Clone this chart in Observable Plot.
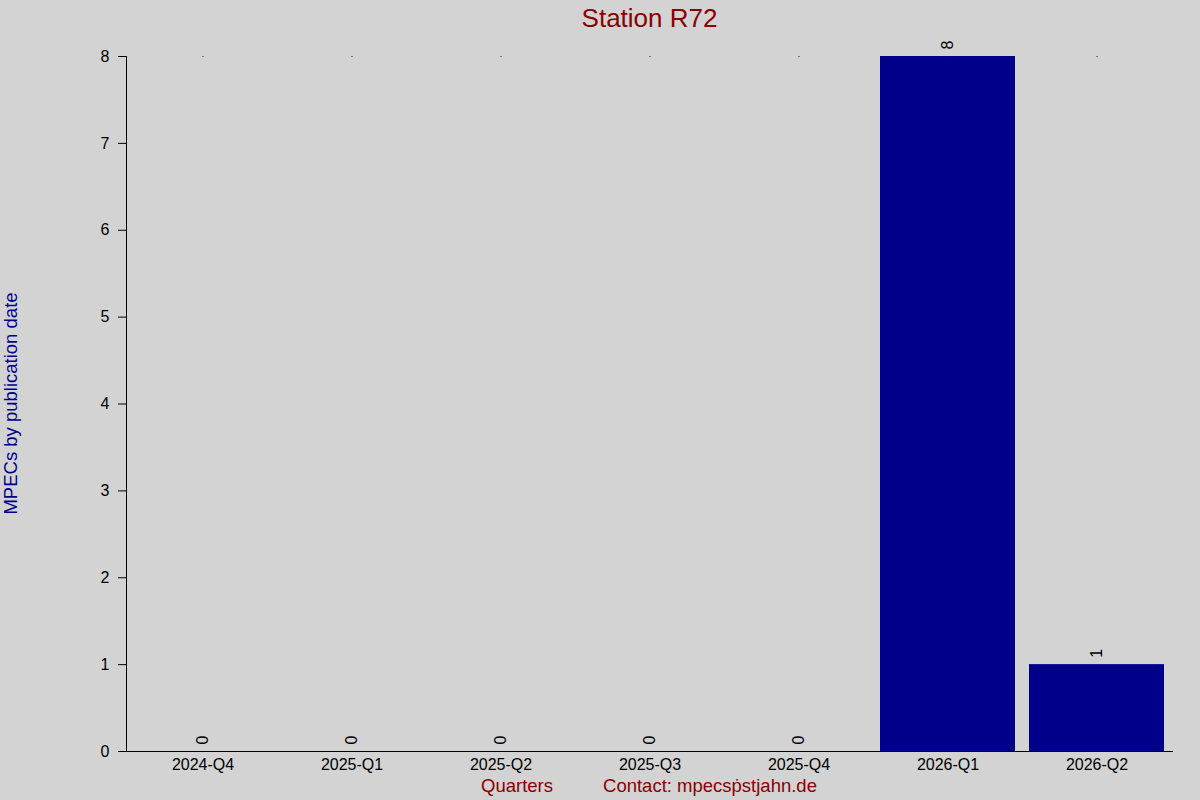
<!DOCTYPE html>
<html>
<head>
<meta charset="utf-8">
<script src="https://cdn.jsdelivr.net/npm/d3@7"></script>
<script src="https://cdn.jsdelivr.net/npm/@observablehq/plot@0.6"></script>
<style>
  html, body { margin: 0; padding: 0; background: #d3d3d3; }
  #chart { width: 1200px; height: 800px; }
</style>
</head>
<body>
<div id="chart"></div>
<script>
const quarters = ["2024-Q4", "2025-Q1", "2025-Q2", "2025-Q3", "2025-Q4", "2026-Q1", "2026-Q2"];
const counts = [0, 0, 0, 0, 0, 8, 1];
const yTicks = [0, 1, 2, 3, 4, 5, 6, 7, 8];
const titleText = "Station R72";
const yLabelText = "MPECs by publication date";
const xLabelText = "Quarters";
const contactText = "Contact: mpecsṗstjahn.de";

const data = quarters.map((q, i) => ({quarter: q, count: counts[i]}));
const yMax = d3.max(yTicks);

const W = 1200, H = 800;
const mL = 126, mR = 27, mT = 56, mB = 49;
const font = "Liberation Sans, Arial, sans-serif";

const plot = Plot.plot({
  width: W,
  height: H,
  marginLeft: mL,
  marginRight: mR,
  marginTop: mT,
  marginBottom: mB,
  style: {background: "#d3d3d3", fontFamily: font, color: "black"},
  x: {domain: quarters, paddingInner: 0.096, paddingOuter: 0.048, label: null},
  y: {domain: [0, yMax], label: null},
  marks: [
    Plot.barY(data, {x: "quarter", y: "count", fill: "#00008b"}),
    Plot.dot(data, {x: "quarter", y: () => yMax, r: 0.6, fill: "black", stroke: null}),
    Plot.text(data, {x: "quarter", y: "count", text: d => String(d.count), rotate: -90,
      textAnchor: "start", lineAnchor: "middle", dy: -7, fontSize: 16, fill: "black"}),
    Plot.axisY({ticks: yTicks, tickFormat: d => String(d), tickSize: 8, tickPadding: 9, fontSize: 16, label: null, stroke: "black"}),
    Plot.axisX({tickSize: 0, tickPadding: 7, fontSize: 16, label: null}),
    Plot.frame({anchor: "left", stroke: "black"}),
    Plot.ruleY([0], {stroke: "black"})
  ]
});

document.getElementById("chart").appendChild(plot);

const svg = d3.select(plot);
const cx = (mL + (W - mR)) / 2;
// extend x axis line left to the tick end
svg.append("line").attr("x1", mL - 8).attr("x2", mL).attr("y1", H - mB + 0.5).attr("y2", H - mB + 0.5).attr("stroke", "black");

svg.append("text").text(titleText)
  .attr("x", cx).attr("y", 27).attr("text-anchor", "middle")
  .attr("font-size", 26).attr("fill", "#8b0000").attr("font-family", font);

svg.append("text").text(yLabelText)
  .attr("transform", `translate(17, ${(mT + H - mB) / 2}) rotate(-90)`)
  .attr("text-anchor", "middle")
  .attr("font-size", 18.5).attr("fill", "#00008b").attr("font-family", font);

svg.append("text").text(xLabelText)
  .attr("x", 517).attr("y", 792).attr("text-anchor", "middle")
  .attr("font-size", 18.5).attr("fill", "#8b0000").attr("font-family", font);

svg.append("text").text(contactText)
  .attr("x", 710).attr("y", 792).attr("text-anchor", "middle")
  .attr("font-size", 18.5).attr("fill", "#8b0000").attr("font-family", font);
</script>
</body>
</html>
